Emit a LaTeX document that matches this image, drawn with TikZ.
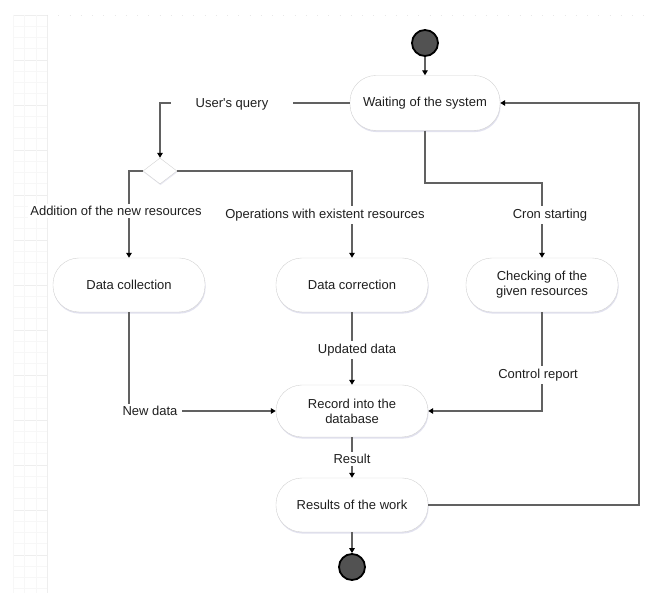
\documentclass[tikz,border=0pt]{standalone}
\usepackage{fontspec}
\newfontfamily\lsans{Liberation Sans}
\usetikzlibrary{arrows.meta,shapes.geometric,shadows}
\begin{document}
\begin{tikzpicture}[x=1pt,y=-1pt,
  txt/.style={font=\lsans\fontsize{13}{15}\selectfont, text=black!88},
  act/.style={txt, draw=gray!35, fill=white, rounded corners=26pt,
    minimum width=152pt, minimum height=54pt, align=center, inner sep=2pt,
    drop shadow={opacity=0.18, shadow xshift=0.6pt, shadow yshift=-1.6pt, fill=blue!30!gray}},
  init/.style={circle, draw=black, line width=1.8pt, fill=black!68, minimum size=26pt, inner sep=0pt},
  dia/.style={diamond, draw=gray!35, fill=white, minimum width=34pt, minimum height=26pt, inner sep=0pt,
    drop shadow={opacity=0.12, shadow xshift=0.5pt, shadow yshift=-1.2pt, fill=blue!30!gray}},
  flow/.style={draw=black!62, line width=1.4pt, -{Triangle[length=5pt,width=5.5pt,color=black]}},
  lbl/.style={txt, fill=white, inner sep=2.5pt},
  gridm/.style={draw=gray!6, line width=0.5pt},
  gridM/.style={draw=gray!13, line width=0.6pt}]
\useasboundingbox (0,0) rectangle (654,593);
\fill[white] (0,0) rectangle (654,593);
% faint canvas grid
\foreach \k in {0,...,51} \draw[gridm] (13,15+11.25*\k) -- (47,15+11.25*\k);
\foreach \k in {0,...,12} \draw[gridM] (13,15+45*\k) -- (47,15+45*\k);
\foreach \x in {13,24,36} \draw[gridm] (\x,15) -- (\x,593);
\draw[gridM] (47,15) -- (47,593);
\draw[gray!18, line width=0.6pt, dash pattern=on 1pt off 10.25pt] (47,15) -- (654,15);

% nodes
\node[init] (start) at (425,43) {};
\node[act, minimum width=150pt, minimum height=55pt] (wait) at (425,103) {Waiting of the system};
\node[dia] (dec) at (160,171) {};
\node[act] (coll) at (129,285) {Data collection};
\node[act] (corr) at (352,285) {Data correction};
\node[act] (check) at (542,285) {Checking of the\\given resources};
\node[act, minimum height=52pt] (rec) at (352,411) {Record into the\\database};
\node[act] (res) at (352,505) {Results of the work};
\node[init] (end) at (352,567) {};
\coordinate (wc) at (425,183);
\coordinate (rc) at (639,505);

% connectors
\draw[flow] (start) -- (wait);
\draw[flow] (wait.west) -- (dec.north |- wait.west) -- (dec.north);
\draw[flow] (dec.west) -- (coll.north |- dec.west) -- (coll.north);
\draw[flow] (dec.east) -- (corr.north |- dec.east) -- (corr.north);
\draw[flow] (wait.south) -- (wc) -| (check.north);
\draw[flow] (coll.south) |- (rec.west);
\draw[flow] (corr.south) -- (rec.north);
\draw[flow] (check.south) |- (rec.east);
\draw[flow] (rec.south) -- (res.north);
\draw[flow] (res.east) -- (rc) |- (wait.east);
\draw[flow] (res.south) -- (end);

% labels on connectors
\node[lbl, inner xsep=25pt] (lq) at (232,104) {User's query};
\node[lbl] (la) at (116,211) {Addition of the new resources};
\node[lbl] (lo) at (325,215) {Operations with existent resources};
\node[lbl] (lc) at (550,215) {Cron starting};
\node[lbl] (lu) at (357,350) {Updated data};
\node[lbl] (lr) at (538,375) {Control report};
\node[lbl, inner xsep=5pt] (ln) at (150,411) {New data};
\node[lbl] (ls) at (352,459) {Result};
\end{tikzpicture}
\end{document}
